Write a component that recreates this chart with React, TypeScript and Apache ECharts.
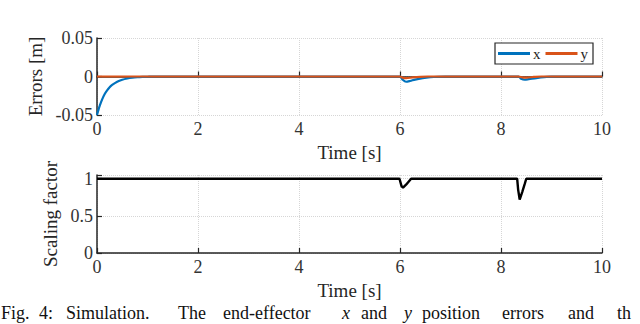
import React, { useEffect, useRef } from "react";
import * as echarts from "echarts";

const timeTicks = [0, 2, 4, 6, 8, 10];
const errX: [number, number][] = [
  [0, -0.05], [0.03, -0.043], [0.06, -0.037], [0.1, -0.03], [0.15, -0.023], [0.2, -0.018],
  [0.25, -0.014], [0.3, -0.011], [0.4, -0.0068], [0.5, -0.0042], [0.6, -0.0026], [0.7, -0.0016],
  [0.8, -0.001], [0.9, -0.0006], [1.0, -0.0003], [1.1, 0], [6.0, 0], [6.05, -0.004],
  [6.12, -0.0068], [6.2, -0.0058], [6.3, -0.004], [6.45, -0.0022], [6.6, -0.001], [6.75, -0.0003],
  [6.9, 0], [8.35, 0], [8.4, -0.003], [8.47, -0.0042], [8.55, -0.0035], [8.7, -0.002],
  [8.85, -0.0008], [9.0, -0.0002], [9.1, 0], [10, 0],
];
const errY: [number, number][] = [
  [0, 0], [6.0, 0], [6.05, -0.0015], [6.12, -0.0022], [6.25, -0.0012], [6.4, -0.0004],
  [6.55, 0], [8.35, 0], [8.42, -0.0012], [8.5, -0.0015], [8.65, -0.0006], [8.8, 0], [10, 0],
];
const scaling: [number, number][] = [
  [0, 1], [5.99, 1], [6.03, 0.9], [6.06, 0.88], [6.12, 0.92], [6.17, 0.96], [6.22, 1],
  [8.32, 1], [8.34, 0.85], [8.37, 0.72], [8.42, 0.82], [8.47, 0.93], [8.5, 1], [10, 1],
];
const captionWords = [
  "Fig.", "4:", "Simulation.", "The", "end-effector", "x", "and", "y",
  "position", "errors", "and", "th",
];
const captionX = [1, 39, 66, 178, 223, 342, 361, 404, 422, 502, 568, 617];

const FONT = "'Liberation Serif', 'Times New Roman', serif";
const AX = "#262626";

export default function App() {
  const ref = useRef<HTMLDivElement>(null);
  useEffect(() => {
    if (!ref.current) return;
    const chart = echarts.init(ref.current, undefined, { renderer: "svg" });
    const xAxisBase = (gridIndex: number) => ({
      type: "value" as const,
      gridIndex,
      min: timeTicks[0],
      max: timeTicks[timeTicks.length - 1],
      interval: 2,
      name: "Time [s]",
      nameLocation: "middle" as const,
      nameGap: 28,
      nameTextStyle: { fontFamily: FONT, fontSize: 19, color: "#262626" },
      axisLine: { show: true, lineStyle: { color: AX, width: 1.5 } },
      axisTick: { show: true, inside: true, length: 5, lineStyle: { color: AX, width: 1.2 } },
      axisLabel: { fontFamily: FONT, fontSize: 18, color: "#333333", margin: 5 },
      splitLine: { show: true, lineStyle: { color: "#d6d6d6", type: "dotted", width: 1 } },
    });
    chart.setOption({
      animation: false,
      backgroundColor: "#ffffff",
      grid: [
        { left: 97, right: 38, top: 38, height: 77 },
        { left: 97, right: 38, top: 175, height: 78 },
      ],
      xAxis: [xAxisBase(0), xAxisBase(1)],
      yAxis: [
        {
          type: "value",
          gridIndex: 0,
          min: -0.05,
          max: 0.05,
          interval: 0.05,
          name: "Errors [m]",
          nameLocation: "middle",
          nameGap: 42,
          nameTextStyle: { fontFamily: FONT, fontSize: 19, color: "#262626" },
          axisLine: { show: true, lineStyle: { color: AX, width: 1.5 } },
          axisTick: { show: true, inside: true, length: 5, lineStyle: { color: AX, width: 1.2 } },
          axisLabel: {
            fontFamily: FONT,
            fontSize: 18,
            color: "#333333",
            margin: 4,
            formatter: (v: number) => (Math.abs(v) < 1e-9 ? "0" : v.toFixed(2)),
          },
          splitLine: { show: true, lineStyle: { color: "#d6d6d6", type: "dotted", width: 1 } },
        },
        {
          type: "value",
          gridIndex: 1,
          min: 0,
          max: 1.05,
          interval: 0.5,
          name: "Scaling factor",
          nameLocation: "middle",
          nameGap: 30,
          nameTextStyle: { fontFamily: FONT, fontSize: 19, color: "#262626" },
          axisLine: { show: true, lineStyle: { color: AX, width: 1.5 } },
          axisTick: { show: true, inside: true, length: 5, lineStyle: { color: AX, width: 1.2 } },
          axisLabel: {
            fontFamily: FONT,
            fontSize: 18,
            color: "#333333",
            margin: 4,
            formatter: (v: number) =>
              Math.abs(v) < 1e-9 ? "0" : Math.abs(v - 0.5) < 1e-9 ? "0.5" : Math.abs(v - 1) < 1e-9 ? "1" : "",
          },
          splitLine: { show: true, lineStyle: { color: "#d6d6d6", type: "dotted", width: 1 } },
        },
      ],
      legend: {
        right: 47,
        top: 43,
        data: ["x", "y"],
        icon: "rect",
        itemWidth: 32,
        itemHeight: 3,
        itemGap: 5,
        padding: [3, 5, 3, 3],
        borderColor: "#262626",
        borderWidth: 1.2,
        backgroundColor: "#ffffff",
        textStyle: { fontFamily: FONT, fontSize: 15, color: "#262626", padding: [0, 0, 2, -2] },
      },
      series: [
        {
          name: "x",
          type: "line",
          xAxisIndex: 0,
          yAxisIndex: 0,
          data: errX,
          showSymbol: false,
          symbol: "none",
          smooth: 0.3,
          color: "#0072BD",
          lineStyle: { width: 2.2, color: "#0072BD" },
        },
        {
          name: "y",
          type: "line",
          xAxisIndex: 0,
          yAxisIndex: 0,
          data: errY,
          showSymbol: false,
          symbol: "none",
          smooth: 0.3,
          color: "#D95319",
          lineStyle: { width: 2.2, color: "#D95319" },
        },
        {
          name: "scale",
          type: "line",
          xAxisIndex: 1,
          yAxisIndex: 1,
          data: scaling,
          showSymbol: false,
          symbol: "none",
          color: "#000000",
          lineStyle: { width: 2.4, color: "#000000" },
        },
      ],
      graphic: captionWords.map((w, i) => ({
        type: "text",
        left: captionX[i],
        top: 304,
        style: {
          text: w,
          fontFamily: FONT,
          fontSize: 18,
          fontStyle: w === "x" || w === "y" ? "italic" : "normal",
          fill: "#111111",
        },
      })),
    });
    return () => chart.dispose();
  }, []);
  return (
    <div
      ref={ref}
      style={{ position: "fixed", left: 0, top: 0, width: 640, height: 324, background: "#fff" }}
    />
  );
}
